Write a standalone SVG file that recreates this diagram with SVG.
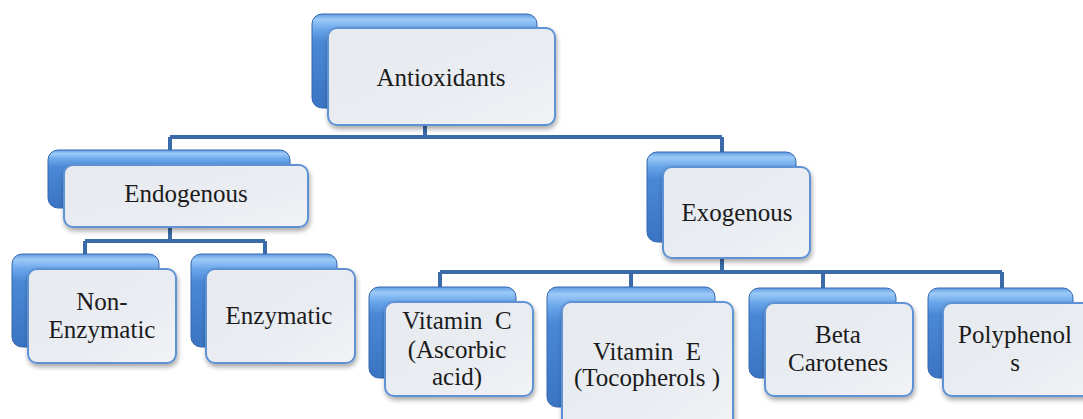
<svg xmlns="http://www.w3.org/2000/svg" width="1083" height="419" viewBox="0 0 1083 419">
<defs>
<linearGradient id="gBack" x1="0" y1="0" x2="0" y2="1">
<stop offset="0" stop-color="#5f9be3"/>
<stop offset="0.06" stop-color="#9ccaf7"/>
<stop offset="0.16" stop-color="#6aa6ea"/>
<stop offset="0.3" stop-color="#4a88d6"/>
<stop offset="1" stop-color="#3a74c2"/>
</linearGradient>
<linearGradient id="gFront" x1="0" y1="0" x2="1" y2="1">
<stop offset="0" stop-color="#e7eaef"/>
<stop offset="0.6" stop-color="#e9ecf1"/>
<stop offset="1" stop-color="#f1f3f6"/>
</linearGradient>
<filter id="sh" x="-10%" y="-10%" width="125%" height="130%">
<feGaussianBlur in="SourceAlpha" stdDeviation="2.5"/>
<feOffset dx="1" dy="3" result="b"/>
<feComponentTransfer><feFuncA type="linear" slope="0.35"/></feComponentTransfer>
<feMerge><feMergeNode/><feMergeNode in="SourceGraphic"/></feMerge>
</filter>
</defs>
<style>
.back{fill:url(#gBack);stroke:#3466ae;stroke-width:1}
.front{fill:url(#gFront);stroke:#5f92d4;stroke-width:2}
.conn{fill:none;stroke:#3b6ba8;stroke-width:4}
text{font-family:"Liberation Serif","Times New Roman",serif;font-size:25px;fill:#1b1b1b;text-anchor:middle;white-space:pre}
</style>
<g id="connectors">
<path class="conn" d="M425 125V137M170 137H722M170 137V151M722 137V153"/>
<path class="conn" d="M170 227V241M85 241H265M85 241V255M265 241V255"/>
<path class="conn" d="M722 258V272M440 272H1002M440 272V288M631 272V288M823 272V289M1002 272V289"/>
</g>
<g id="antioxidants">
<rect class="back" x="312" y="14" width="225" height="94" rx="10"/>
<rect class="front" x="328" y="28" width="227" height="97" rx="9" filter="url(#sh)"/>
<text x="441" y="86">Antioxidants</text>
</g>
<g id="endogenous">
<rect class="back" x="48" y="150" width="242" height="58" rx="10"/>
<rect class="front" x="64" y="165" width="244" height="62" rx="9" filter="url(#sh)"/>
<text x="186" y="202">Endogenous</text>
</g>
<g id="exogenous">
<rect class="back" x="647" y="152" width="149" height="90" rx="10"/>
<rect class="front" x="663" y="167" width="147" height="91" rx="9" filter="url(#sh)"/>
<text x="737" y="221">Exogenous</text>
</g>
<g id="non-enzymatic">
<rect class="back" x="12" y="254" width="147" height="93" rx="10"/>
<rect class="front" x="28" y="269" width="148" height="94" rx="9" filter="url(#sh)"/>
<text x="102" y="310">Non-</text>
<text x="102" y="338">Enzymatic</text>
</g>
<g id="enzymatic">
<rect class="back" x="191" y="254" width="146" height="93" rx="10"/>
<rect class="front" x="206" y="269" width="149" height="94" rx="9" filter="url(#sh)"/>
<text x="279" y="324">Enzymatic</text>
</g>
<g id="vitamin-c">
<rect class="back" x="369" y="287" width="147" height="91" rx="10"/>
<rect class="front" x="385" y="302" width="148" height="94" rx="9" filter="url(#sh)"/>
<text x="457" y="329">Vitamin  C</text>
<text x="457" y="358">(Ascorbic</text>
<text x="457" y="385">acid)</text>
</g>
<g id="vitamin-e">
<rect class="back" x="547" y="287" width="168" height="120" rx="10"/>
<rect class="front" x="562" y="302" width="171" height="130" rx="9" filter="url(#sh)"/>
<text x="647" y="360">Vitamin  E</text>
<text x="647" y="386">(Tocopherols )</text>
</g>
<g id="beta-carotenes">
<rect class="back" x="749" y="288" width="147" height="90" rx="10"/>
<rect class="front" x="765" y="303" width="148" height="93" rx="9" filter="url(#sh)"/>
<text x="838" y="343">Beta</text>
<text x="838" y="371">Carotenes</text>
</g>
<g id="polyphenols">
<rect class="back" x="928" y="288" width="145" height="90" rx="10"/>
<rect class="front" x="943" y="303" width="150" height="93" rx="9" filter="url(#sh)"/>
<text x="1015" y="343">Polyphenol</text>
<text x="1015" y="371">s</text>
</g>
</svg>
